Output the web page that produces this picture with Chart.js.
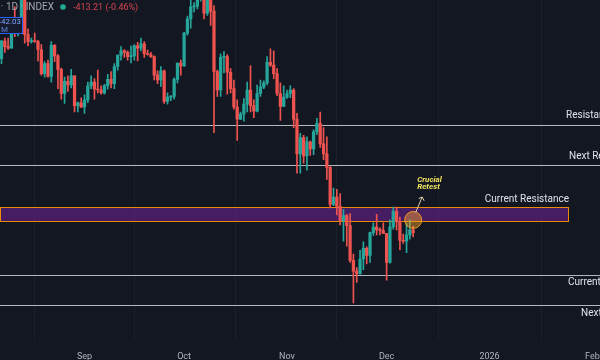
<!DOCTYPE html>
<html><head><meta charset="utf-8">
<script src="https://cdn.jsdelivr.net/npm/chart.js@4.4.1/dist/chart.umd.min.js"></script>
<style>html,body{margin:0;padding:0;background:#131722;overflow:hidden}#wrap{width:600px;height:360px;position:relative}</style>
</head><body><div id="wrap"><canvas id="c" width="600" height="360"></canvas></div>
<script>
// Daily candles, prices in thousands of USD
const dates = ['2025-08-06','2025-08-07','2025-08-08','2025-08-09','2025-08-10','2025-08-11','2025-08-12','2025-08-13','2025-08-14','2025-08-15','2025-08-16','2025-08-17','2025-08-18','2025-08-19','2025-08-20','2025-08-21','2025-08-22','2025-08-23','2025-08-24','2025-08-25','2025-08-26','2025-08-27','2025-08-28','2025-08-29','2025-08-30','2025-08-31',
'2025-09-01','2025-09-02','2025-09-03','2025-09-04','2025-09-05','2025-09-06','2025-09-07','2025-09-08','2025-09-09','2025-09-10','2025-09-11','2025-09-12','2025-09-13','2025-09-14','2025-09-15','2025-09-16','2025-09-17','2025-09-18','2025-09-19','2025-09-20','2025-09-21','2025-09-22','2025-09-23','2025-09-24','2025-09-25','2025-09-26','2025-09-27','2025-09-28','2025-09-29','2025-09-30',
'2025-10-01','2025-10-02','2025-10-03','2025-10-04','2025-10-05','2025-10-06','2025-10-07','2025-10-08','2025-10-09','2025-10-10','2025-10-11','2025-10-12','2025-10-13','2025-10-14','2025-10-15','2025-10-16','2025-10-17','2025-10-18','2025-10-19','2025-10-20','2025-10-21','2025-10-22','2025-10-23','2025-10-24','2025-10-25','2025-10-26','2025-10-27','2025-10-28','2025-10-29','2025-10-30','2025-10-31',
'2025-11-01','2025-11-02','2025-11-03','2025-11-04','2025-11-05','2025-11-06','2025-11-07','2025-11-08','2025-11-09','2025-11-10','2025-11-11','2025-11-12','2025-11-13','2025-11-14','2025-11-15','2025-11-16','2025-11-17','2025-11-18','2025-11-19','2025-11-20','2025-11-21','2025-11-22','2025-11-23','2025-11-24','2025-11-25','2025-11-26','2025-11-27','2025-11-28','2025-11-29','2025-11-30',
'2025-12-01','2025-12-02','2025-12-03','2025-12-04','2025-12-05','2025-12-06','2025-12-07','2025-12-08','2025-12-09'];
const opens = [114.1,115.0,117.5,116.7,116.5,119.3,118.7,120.2,123.3,118.4,117.4,117.5,117.4,116.3,112.9,114.3,112.5,116.9,115.4,113.5,110.1,111.8,111.3,112.6,108.4,108.8,
108.2,109.2,111.2,111.7,110.7,110.6,110.2,111.2,112.1,111.5,113.9,115.5,116.1,115.9,115.3,115.4,116.8,116.5,117.1,115.7,115.6,115.3,112.7,112.0,113.3,109.0,109.6,109.7,112.1,114.4,
114.0,118.6,120.6,122.3,122.4,123.5,124.7,121.4,123.3,121.7,113.2,110.6,115.2,115.3,113.1,110.8,108.2,106.5,107.2,108.6,110.6,108.4,107.6,110.1,111.0,111.6,114.5,114.1,112.9,110.1,108.3,
109.6,110.1,110.6,106.5,101.6,103.9,101.3,103.3,102.3,104.7,105.9,103.0,101.6,99.7,94.5,95.5,94.2,92.2,92.9,91.5,86.6,85.1,84.7,86.8,88.3,87.3,90.5,91.3,90.9,90.8,
90.4,86.3,91.3,93.5,92.1,89.4,89.3,90.2,90.9];
const highs = [115.7,117.6,117.9,117.9,119.3,122.3,120.3,123.7,124.5,119.2,117.9,118.6,117.6,117.0,114.6,114.8,117.4,117.0,115.6,113.7,112.4,112.6,113.5,112.6,108.9,109.5,
109.9,111.7,112.6,112.2,113.4,111.2,111.4,112.8,113.2,114.3,115.5,116.7,116.3,116.1,116.8,117.0,117.3,117.9,117.4,116.2,115.9,115.4,113.3,113.9,113.4,110.2,109.8,112.3,114.4,114.8,
118.7,121.0,123.9,122.9,125.6,126.2,125.1,124.2,123.8,122.5,113.4,115.7,116.0,115.6,113.6,112.0,109.2,107.5,109.4,111.7,114.0,109.2,111.3,112.0,111.9,115.3,116.4,116.1,113.6,111.6,111.2,
110.6,111.2,110.8,107.3,104.5,104.2,104.0,103.4,105.0,106.6,107.5,105.3,104.0,99.8,96.8,96.6,96.0,93.8,93.1,93.2,87.5,85.6,88.0,89.2,88.5,90.6,91.9,93.1,91.2,91.9,
90.4,92.3,94.1,94.1,92.7,90.3,91.8,92.3,91.4];
const lows = [113.4,114.3,115.9,116.3,116.5,118.1,118.2,118.9,117.2,116.8,117.2,117.3,114.7,112.7,112.4,112.4,111.7,114.6,110.8,109.3,108.7,110.4,110.9,107.5,107.5,108.1,
107.3,108.8,110.8,109.3,110.2,110.0,110.0,110.7,110.9,110.8,113.4,114.8,115.2,114.8,114.4,114.8,114.7,116.1,115.2,115.5,115.2,112.0,111.5,111.1,108.7,108.6,109.1,109.3,111.6,112.7,
113.9,118.3,119.3,121.6,122.0,123.1,120.6,121.1,119.7,104.6,109.7,109.7,113.0,110.0,110.2,107.9,103.5,106.4,106.2,107.5,107.5,106.7,107.5,109.7,110.8,111.3,113.9,112.2,109.8,106.3,108.3,
109.4,109.5,105.3,98.9,98.9,100.3,99.3,101.4,101.5,104.3,102.5,100.8,98.0,94.0,94.3,93.0,91.6,89.3,88.6,86.3,80.6,83.5,84.7,85.3,86.1,86.3,90.1,90.2,90.2,90.4,
83.8,86.2,91.0,90.9,88.1,89.0,87.7,89.6,89.9];
const closes = [115.0,117.5,116.7,116.5,119.3,118.7,120.2,123.3,118.4,117.4,117.5,117.4,116.3,112.9,114.3,112.5,116.9,115.4,113.5,110.1,111.8,111.3,112.6,108.4,108.8,108.2,
109.2,111.2,111.7,110.7,110.6,110.2,111.2,112.1,111.5,113.9,115.5,116.1,115.9,115.3,115.4,116.8,116.5,117.1,115.7,115.6,115.3,112.7,112.0,113.3,109.0,109.6,109.7,112.1,114.4,114.0,
118.6,120.6,122.3,122.4,123.5,124.7,121.4,123.3,121.7,113.2,110.6,115.2,115.3,113.1,110.8,108.2,106.5,107.2,108.6,110.6,108.4,107.6,110.1,111.0,111.6,114.5,114.1,112.9,110.1,108.3,109.6,
110.1,110.6,106.5,101.6,103.9,101.3,103.3,102.3,104.7,105.9,103.0,101.6,99.7,94.5,95.5,94.2,92.2,92.9,91.5,86.6,85.1,84.7,86.8,88.3,87.3,90.5,91.3,90.9,90.8,90.4,
86.3,91.3,93.5,92.1,89.4,89.3,90.2,90.9,90.5];

const levelValues = [105.67, 100.04, 84.55, 80.25];
const levelNames = ['Resistance', 'Next Resistance', 'Current Support', 'Next Support'];
const zoneRange = [92.08, 94.05];
const zoneName = 'Current Resistance';
const retestDate = '2025-12-09';
const retestPrice = 92.29;
const retestText = ['Crucial', 'Retest'];
const tickDates = ['2025-09-01','2025-10-01','2025-11-01','2025-12-01','2026-01-01','2026-02-01'];
const tickLabels = ['Sep','Oct','Nov','Dec','2026','Feb'];
const headerTitle = 'Bitcoin / U.S. Dollar · 1D · INDEX';
const headerChange = '-413.21 (-0.46%)';
const lastPriceText = '89,442.03';

const BASE = Date.parse('2025-09-01T00:00:00Z');
const dayIdx = s => (Date.parse(s + 'T00:00:00Z') - BASE) / 86400000;
const UP = '#26a69a', DOWN = '#ef5350';
const cols = opens.map((o, i) => closes[i] >= o ? UP : DOWN);
const tickVals = tickDates.map(dayIdx);

const annot = {
  id: 'annot',
  beforeDatasetsDraw(chart) {
    const {ctx, scales: {x, y}} = chart;
    ctx.save();
    const zt = y.getPixelForValue(zoneRange[1]), zb = y.getPixelForValue(zoneRange[0]);
    ctx.fillStyle = 'rgba(128,34,170,0.47)';
    ctx.fillRect(0, zt, 568.5, zb - zt);
    ctx.strokeStyle = 'rgba(255,152,0,0.9)';
    ctx.lineWidth = 1;
    ctx.strokeRect(0.5, Math.round(zt) + 0.5, 568, Math.round(zb - zt));
    ctx.strokeStyle = 'rgba(209,212,220,0.85)';
    levelValues.forEach(v => {
      const py = Math.round(y.getPixelForValue(v)) + 0.5;
      ctx.beginPath(); ctx.moveTo(0, py); ctx.lineTo(600, py); ctx.stroke();
    });
    ctx.restore();
  },
  afterDatasetsDraw(chart) {
    const {ctx, scales: {x, y}} = chart;
    ctx.save();
    const lx = [566, 569, 568, 581];
    const off = [-9, -8, 8, 8];
    ctx.font = '10px Roboto';
    ctx.fillStyle = '#e0e3eb';
    ctx.textAlign = 'left'; ctx.textBaseline = 'middle';
    levelValues.forEach((v, i) => {
      ctx.fillText(levelNames[i], lx[i], y.getPixelForValue(v) + off[i]);
    });
    ctx.textAlign = 'right';
    ctx.fillText(zoneName, 569, y.getPixelForValue(zoneRange[1]) - 8);
    const cx = x.getPixelForValue(dayIdx(retestDate)), cy = y.getPixelForValue(retestPrice);
    ctx.beginPath(); ctx.arc(cx, cy, 8.5, 0, Math.PI * 2);
    ctx.fillStyle = 'rgba(255,167,38,0.45)'; ctx.fill();
    ctx.strokeStyle = 'rgba(255,167,38,0.85)'; ctx.lineWidth = 1; ctx.stroke();
    ctx.strokeStyle = '#d8d3a8'; ctx.lineWidth = 1;
    const ax0 = cx + 2.5, ay0 = cy - 7.5, ax1 = cx + 9, ay1 = cy - 23;
    ctx.beginPath(); ctx.moveTo(ax0, ay0); ctx.lineTo(ax1, ay1); ctx.stroke();
    ctx.beginPath(); ctx.moveTo(ax1 - 3.5, ay1 + 1.5); ctx.lineTo(ax1, ay1); ctx.lineTo(ax1 + 2, ay1 + 3.8); ctx.stroke();
    ctx.fillStyle = '#f2e35c';
    ctx.font = 'italic bold 8px Roboto';
    ctx.textAlign = 'left';
    ctx.fillText(retestText[0], cx + 4, cy - 40);
    ctx.fillText(retestText[1], cx + 4, cy - 32.5);
    ctx.font = '10px Roboto';
    ctx.fillStyle = '#a3a6af';
    ctx.textAlign = 'right';
    ctx.fillText(headerTitle, 54, 7);
    ctx.beginPath(); ctx.arc(63, 7, 2.8, 0, Math.PI * 2); ctx.fillStyle = '#22ab94'; ctx.fill();
    ctx.textAlign = 'left';
    ctx.fillStyle = '#d64550';
    ctx.font = '9px Roboto';
    ctx.fillText(headerChange, 73, 7.5);
    ctx.fillStyle = '#161b2c';
    ctx.fillRect(-2, 17, 25, 17);
    ctx.strokeStyle = '#2962ff'; ctx.lineWidth = 1;
    ctx.strokeRect(-2.5, 17.5, 25, 16);
    ctx.fillStyle = '#7fa3ff';
    ctx.font = '8px Roboto';
    ctx.textAlign = 'right';
    ctx.fillText(lastPriceText, 21, 22);
    ctx.fillStyle = '#5f7fd6';
    ctx.fillText('M', 8, 29.5);
    ctx.restore();
  }
};

new Chart(document.getElementById('c'), {
  type: 'bar',
  data: {
    datasets: [
      {
        label: 'wicks',
        data: dates.map((d, i) => ({x: dayIdx(d), y: [lows[i], highs[i]]})),
        backgroundColor: cols, barThickness: 1, grouped: false, order: 2, borderWidth: 0
      },
      {
        label: 'bodies',
        data: dates.map((d, i) => ({x: dayIdx(d), y: [opens[i], closes[i]]})),
        backgroundColor: cols, barThickness: 2.6, minBarLength: 1, grouped: false, order: 1, borderWidth: 0
      }
    ]
  },
  options: {
    responsive: false, animation: false, devicePixelRatio: 1,
    layout: {padding: 0},
    plugins: {legend: {display: false}, tooltip: {enabled: false}},
    scales: {
      x: {
        type: 'linear', min: -25.45, max: 155.27, offset: false,
        afterBuildTicks: s => { s.ticks = tickVals.map(v => ({value: v})); },
        afterFit: s => { s.paddingLeft = 0; s.paddingRight = 0; s.height = 20.5; },
        ticks: {
          autoSkip: false, maxRotation: 0, padding: 14.5, color: '#b2b5be',
          font: {family: 'Roboto', size: 9, lineHeight: 0.5},
          callback: (v, i) => tickLabels[i]
        },
        grid: {color: 'rgba(42,46,57,0.35)', drawTicks: false},
        border: {display: false}
      },
      y: {
        display: false, min: 75.46, max: 123.27
      }
    }
  },
  plugins: [annot]
});
</script>
</body></html>
